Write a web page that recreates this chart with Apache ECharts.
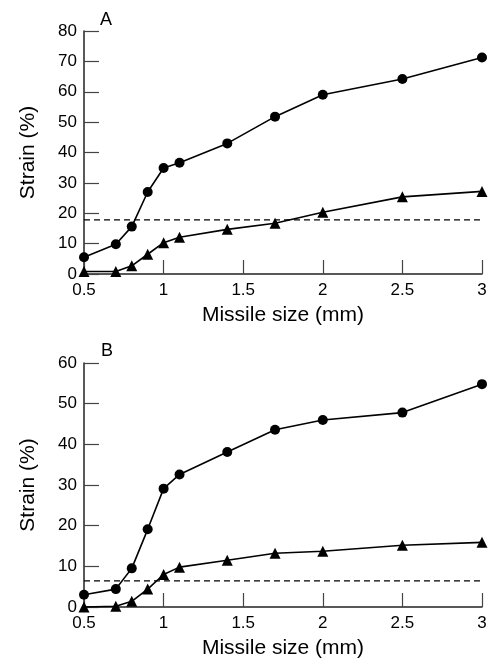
<!DOCTYPE html>
<html>
<head>
<meta charset="utf-8">
<style>
  html, body { margin: 0; padding: 0; background: #fff; }
  #chart { width: 491px; height: 662px; }
</style>
<script src="https://cdn.jsdelivr.net/npm/echarts@6/dist/echarts.min.js"></script>
</head>
<body>
<div id="chart"></div>
<script>
// ---- data ----
const sizes = [0.5, 0.7, 0.8, 0.9, 1.0, 1.1, 1.4, 1.7, 2.0, 2.5, 3.0];
const circleA = [5.5, 9.8, 15.6, 27.0, 34.9, 36.6, 43.0, 51.8, 59.0, 64.2, 71.3];
const triangleA = [0.8, 0.8, 2.7, 6.5, 10.3, 12.1, 14.7, 16.7, 20.3, 25.4, 27.2];
const thresholdA = 17.8;
const circleB = [3.0, 4.4, 9.5, 19.1, 29.1, 32.6, 38.1, 43.6, 46.0, 47.8, 54.8];
const triangleB = [0.0, 0.2, 1.4, 4.4, 8.0, 9.8, 11.5, 13.2, 13.7, 15.2, 15.9];
const thresholdB = 6.4;
const xRange = [0.5, 3];
const panelLabels = ['A', 'B'];
const xTitle = 'Missile size (mm)';
const yTitle = 'Strain (%)';

const FONT = '"Liberation Sans", Arial, Helvetica, sans-serif';
const pair = (xs, ys) => xs.map((x, i) => [x, ys[i]]);

function xAxis(gi) {
  return {
    type: 'value', gridIndex: gi, min: xRange[0], max: xRange[1], interval: 0.5,
    name: xTitle, nameLocation: 'middle', nameGap: 31,
    nameTextStyle: { fontFamily: FONT, fontSize: 21, color: '#000' },
    axisLine: { lineStyle: { color: '#222', width: 1.5 } },
    axisTick: { inside: true, length: 14, lineStyle: { color: '#444', width: 1.2 } },
    axisLabel: { fontFamily: FONT, fontSize: 17, color: '#000', margin: 8 },
    splitLine: { show: false }
  };
}
function yAxis(gi, max) {
  return {
    type: 'value', gridIndex: gi, min: 0, max: max, interval: 10,
    name: yTitle, nameLocation: 'middle', nameGap: 45,
    nameTextStyle: { fontFamily: FONT, fontSize: 21, color: '#000' },
    axisLine: { show: true, lineStyle: { color: '#222', width: 1.5 } },
    axisTick: { show: true, inside: true, length: 15, lineStyle: { color: '#444', width: 1.2 } },
    axisLabel: { fontFamily: FONT, fontSize: 17, color: '#000', margin: 7 },
    splitLine: { show: false }
  };
}
function dataSeries(idx, ys, symbol, size) {
  return {
    type: 'line', xAxisIndex: idx, yAxisIndex: idx,
    data: pair(sizes, ys), symbol: symbol, symbolSize: size,
    showAllSymbol: true, clip: false, silent: true, animation: false,
    lineStyle: { color: '#000', width: 1.6 },
    itemStyle: { color: '#000', borderWidth: 0 }
  };
}
function dashSeries(idx, v) {
  return {
    type: 'line', xAxisIndex: idx, yAxisIndex: idx,
    data: [[xRange[0], v], [xRange[1], v]], symbol: 'none', silent: true, animation: false,
    lineStyle: { color: '#000', width: 1.3, type: [6, 4] }
  };
}

const chart = echarts.init(document.getElementById('chart'), null, { renderer: 'canvas' });
chart.setOption({
  backgroundColor: '#fff',
  animation: false,
  title: [
    { text: panelLabels[0], left: 95, top: 6, textStyle: { fontFamily: FONT, fontSize: 18, fontWeight: 'normal', color: '#000' } },
    { text: panelLabels[1], left: 96, top: 337, textStyle: { fontFamily: FONT, fontSize: 18, fontWeight: 'normal', color: '#000' } }
  ],
  grid: [
    { left: 84, right: 9, top: 31, height: 243 },
    { left: 84, right: 9, top: 363, height: 244 }
  ],
  xAxis: [xAxis(0), xAxis(1)],
  yAxis: [yAxis(0, 80), yAxis(1, 60)],
  series: [
    dashSeries(0, thresholdA),
    dataSeries(0, circleA, 'circle', 10),
    dataSeries(0, triangleA, 'triangle', 11),
    dashSeries(1, thresholdB),
    dataSeries(1, circleB, 'circle', 10),
    dataSeries(1, triangleB, 'triangle', 11)
  ]
});
</script>
</body>
</html>
